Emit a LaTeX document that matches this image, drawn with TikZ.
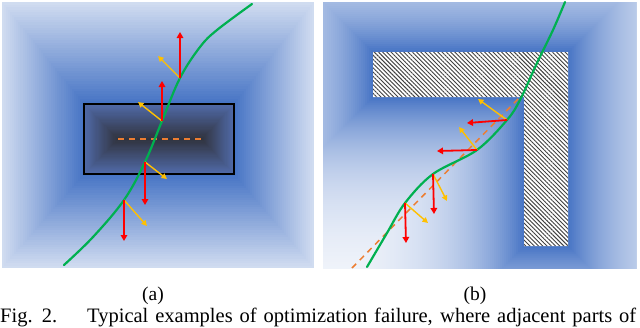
\documentclass[tikz,border=0pt]{standalone}
\usepackage{fontspec}
\setmainfont{Liberation Serif}
\usetikzlibrary{arrows.meta, patterns.meta, positioning}

\definecolor{fieldblue}{RGB}{68,114,196}
\definecolor{coreblue}{RGB}{80,106,168}
\definecolor{coredark}{RGB}{48,50,60}
\definecolor{pathgreen}{RGB}{0,176,80}
\definecolor{forcered}{RGB}{255,0,0}
\definecolor{gradgold}{RGB}{255,192,0}
\definecolor{initorange}{RGB}{237,125,49}

\begin{document}
\begin{tikzpicture}[x=1pt, y=-1pt]
    % Define styles for the curves and vectors
    \tikzstyle{traj} = [pathgreen, line width=2.2pt, line cap=round]
    \tikzstyle{initguess} = [initorange, line width=1.5pt, dash pattern=on 6pt off 5pt]
    \tikzstyle{force} = [forcered, line width=1.8pt, -{Triangle[length=6pt,width=6.5pt]}]
    \tikzstyle{grad} = [gradgold, line width=1.4pt, -{Triangle[length=5.5pt,width=5.5pt]}]
    \tikzstyle{sublabel} = [font=\fontsize{19.5}{22}\selectfont, inner sep=0pt]
    \tikzstyle{captext} = [font=\fontsize{20.5}{24}\selectfont, inner sep=0pt]
    \tikzstyle{hatch} = [pattern={Lines[angle=-45, distance=3pt, line width=0.9pt]}, pattern color=black!75]

    \useasboundingbox (0,0) rectangle (640,327);

    % Panel (a): field around the box
    \foreach \i in {0,...,40} {
        \pgfmathsetmacro\t{\i/40}
        \pgfmathsetmacro\p{25+75*\t}
        \fill[fieldblue!\p!white] ({2+82*\t},{2+102*\t}) rectangle ({314-80*\t},{268-94*\t});
    }
    \foreach \i in {0,...,30} {
        \pgfmathsetmacro\t{\i/30}
        \pgfmathsetmacro\p{100*\t}
        \fill[coredark!\p!coreblue] ({84+34*\t},{104+35*\t}) rectangle ({234-32*\t},{174-35*\t});
    }
    \draw[black, line width=1.6pt] (84,104) rectangle (234,174);
    \draw[initguess] (118,139) -- (202,139);

    \draw[traj] plot[smooth, tension=0.6] coordinates {(64,265) (93,237) (124,200) (145,162) (162,121) (180,78) (200,47) (217,30) (252,4)};

    % Vectors on the curve in (a)
    \coordinate (a1) at (180,78);
    \coordinate (a2) at (162,121);
    \coordinate (a3) at (145,162);
    \coordinate (a4) at (124,200);
    \draw[grad] (a1) -- ++(-22,-22);
    \draw[force] (a1) -- ++(0,-46);
    \draw[grad] (a2) -- ++(-24,-19);
    \draw[force] (a2) -- ++(0,-40);
    \draw[grad] (a3) -- ++(22,17);
    \draw[force] (a3) -- ++(0,43);
    \draw[grad] (a4) -- ++(23,26);
    \draw[force] (a4) -- ++(0,41);

    % Panel (b): field around the L-shaped obstacle
    \begin{scope}
        \clip (323,2) rectangle (636,268);
        \fill[white] (323,2) rectangle (636,268);
        \foreach \d in {200,198,...,0} {
            \pgfmathsetmacro\p{100*exp(-\d/70)}
            \fill[fieldblue!\p!white] ({373-\d},{52-\d}) -- ({568+\d},{52-\d}) -- ({568+\d},{246+\d})
                -- ({524-\d},{246+\d}) -- ({524-\d},{97+\d}) -- ({373-\d},{97+\d}) -- cycle;
        }
    \end{scope}
    \fill[white] (373,52) -- (568,52) -- (568,246) -- (524,246) -- (524,97) -- (373,97) -- cycle;
    \fill[hatch] (373,52) -- (568,52) -- (568,246) -- (524,246) -- (524,97) -- (373,97) -- cycle;

    \draw[initguess] (352,268) -- (520,97);
    \draw[traj] plot[smooth, tension=0.55] coordinates {(367,267) (387,233) (405,203) (433,174) (477,150) (507,120) (520,100) (537,63) (553,30) (565,2)};

    % Vectors on the curve in (b)
    \coordinate (b1) at (507,120);
    \coordinate (b2) at (477,150);
    \coordinate (b3) at (433,174);
    \coordinate (b4) at (405,203);
    \draw[grad] (b1) -- ++(-29,-21);
    \draw[force] (b1) -- ++(-40,3);
    \draw[grad] (b2) -- ++(-18,-23);
    \draw[force] (b2) -- ++(-40,1);
    \draw[grad] (b3) -- ++(14,27);
    \draw[force] (b3) -- ++(1,40);
    \draw[grad] (b4) -- ++(23,20);
    \draw[force] (b4) -- ++(1,40);

    % Sub-figure labels and caption
    \node[sublabel, anchor=base] (labela) at (153,300) {(a)};
    \node[sublabel, anchor=base] (labelb) at (475,300) {(b)};
    \node[captext, anchor=base west] (figno) at (0,322.5) {\makebox[57pt][s]{Fig. 2.}};
    \node[captext, anchor=base west] (caption) at (87,322.5) {\makebox[549pt][s]{Typical examples of optimization failure, where adjacent parts of}};
\end{tikzpicture}
\end{document}
